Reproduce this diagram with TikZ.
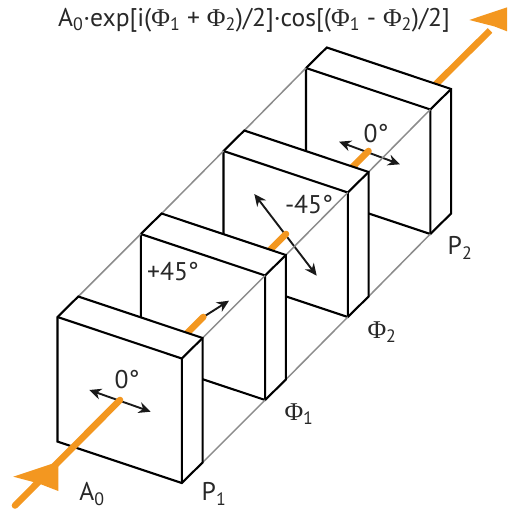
\documentclass[tikz,border=0pt]{standalone}
\usepackage{fontspec}
\setmainfont{PT Sans}
\newfontfamily\phifont{Liberation Serif}
\usetikzlibrary{arrows.meta}
\definecolor{beamorange}{RGB}{243,151,32}
\definecolor{railgrey}{RGB}{140,140,140}
\definecolor{labelgrey}{RGB}{40,40,40}
\newcommand{\Ph}[1]{{\phifont Φ}\textsubscript{#1}}
\tikzset{
    plate/.style={draw=black, fill=white, line width=2.1pt, line join=miter},
    rail/.style={draw=railgrey, line width=1.5pt},
    beam/.style={draw=beamorange, line width=6.6pt, line cap=round},
    head/.style={fill=beamorange, draw=none},
    polar/.style={draw=black!90, line width=1.9pt, {Stealth[length=12pt,width=11pt]}-{Stealth[length=12pt,width=11pt]}},
    polarone/.style={draw=black!90, line width=1.9pt, -{Stealth[length=12pt,width=11pt]}},
    lab/.style={inner sep=0pt, text=labelgrey, font=\fontsize{25.6}{27}\selectfont},
}
% one plate: corners come from the coordinates set below
\newcommand{\plate}[1]{
    \draw[plate] (#1tl) -- (#1tb) -- (#1rb) -- (#1brb) -- (#1br) -- (#1bl) -- cycle;
    \draw[plate, fill=none] (#1tl) -- (#1tr) -- (#1br);
    \draw[plate, fill=none] (#1tr) -- (#1rb);
}
\begin{document}
\begin{tikzpicture}[x=1pt, y=-1pt]
    \useasboundingbox (0,0) rectangle (507,510);
    \clip (0,0) rectangle (507,510);

    \foreach \n/\x/\y in {a/57.5/317, b/140.8/234, c/223.5/151, d/306/68}{
        \coordinate (\n tl) at (\x,\y);
        \coordinate (\n tr) at (\x+124.3,\y+41.5);
        \coordinate (\n br) at (\x+124.3,\y+166);
        \coordinate (\n bl) at (\x,\y+124.6);
        \coordinate (\n tb) at (\x+20.8,\y-20.5);
        \coordinate (\n rb) at (\x+145.1,\y+21);
        \coordinate (\n brb) at (\x+145.1,\y+145.5);
        \coordinate (\n mid) at (\x+62.5,\y+83);
    }
    \coordinate (beamin) at (15,505.5);
    \coordinate (beamout) at (490,30.5);

    % outgoing beam and last plate
    \draw[beam, line cap=butt] (dmid) -- (beamout);
    \fill[head] (469.3,20) -- (514,5) -- (514,34) -- (494.3,26.4) -- cycle;
    \plate{d}
    \draw[polar] (339,141.7) -- (400,164.3);
    \draw[beam] (cmid) -- (dmid);
    \draw[rail] (ctb) -- (dtl);
    \draw[rail] (crb) -- (dtr);
    \draw[rail] (cbrb) -- (dbr);

    \plate{c}
    \draw[polar] (254.3,194) -- (316.7,275.7);
    \draw[beam] (bmid) -- (cmid);
    \draw[rail] (btb) -- (ctl);
    \draw[rail] (brb) -- (ctr);
    \draw[rail] (bbrb) -- (cbr);

    \plate{b}
    \draw[polarone] (bmid) -- (229,300.7);
    \draw[beam] (amid) -- (bmid);
    \draw[rail] (atb) -- (btl);
    \draw[rail] (arb) -- (btr);
    \draw[rail] (abrb) -- (bbr);

    \plate{a}
    \draw[polar] (89.3,390) -- (150.7,411.7);
    \draw[beam] (beamin) -- (amid);
    \fill[head] (58.3,461.7) -- (13.3,476.7) -- (38.3,483.3) -- (58.3,491) -- cycle;

    \node[lab] (title) at (254,20) {A\textsubscript{0}·exp[i(\Ph{1} + \Ph{2})/2]·cos[(\Ph{1} - \Ph{2})/2]};
    \node[lab] (inlab) at (92,494) {A\textsubscript{0}};
    \node[lab] (ponelab) at (214,494) {P\textsubscript{1}};
    \node[lab] (ptwolab) at (460,248) {P\textsubscript{2}};
    \node[lab] (phionelab) at (299,414) {\Ph{1}};
    \node[lab] (phitwolab) at (382,332) {\Ph{2}};
    \node[lab] (angone) at (127,380) {0°};
    \node[lab] (angtwo) at (173,272) {+45°};
    \node[lab] (angthree) at (309,205) {-45°};
    \node[lab] (angfour) at (376,134) {0°};
\end{tikzpicture}
\end{document}
